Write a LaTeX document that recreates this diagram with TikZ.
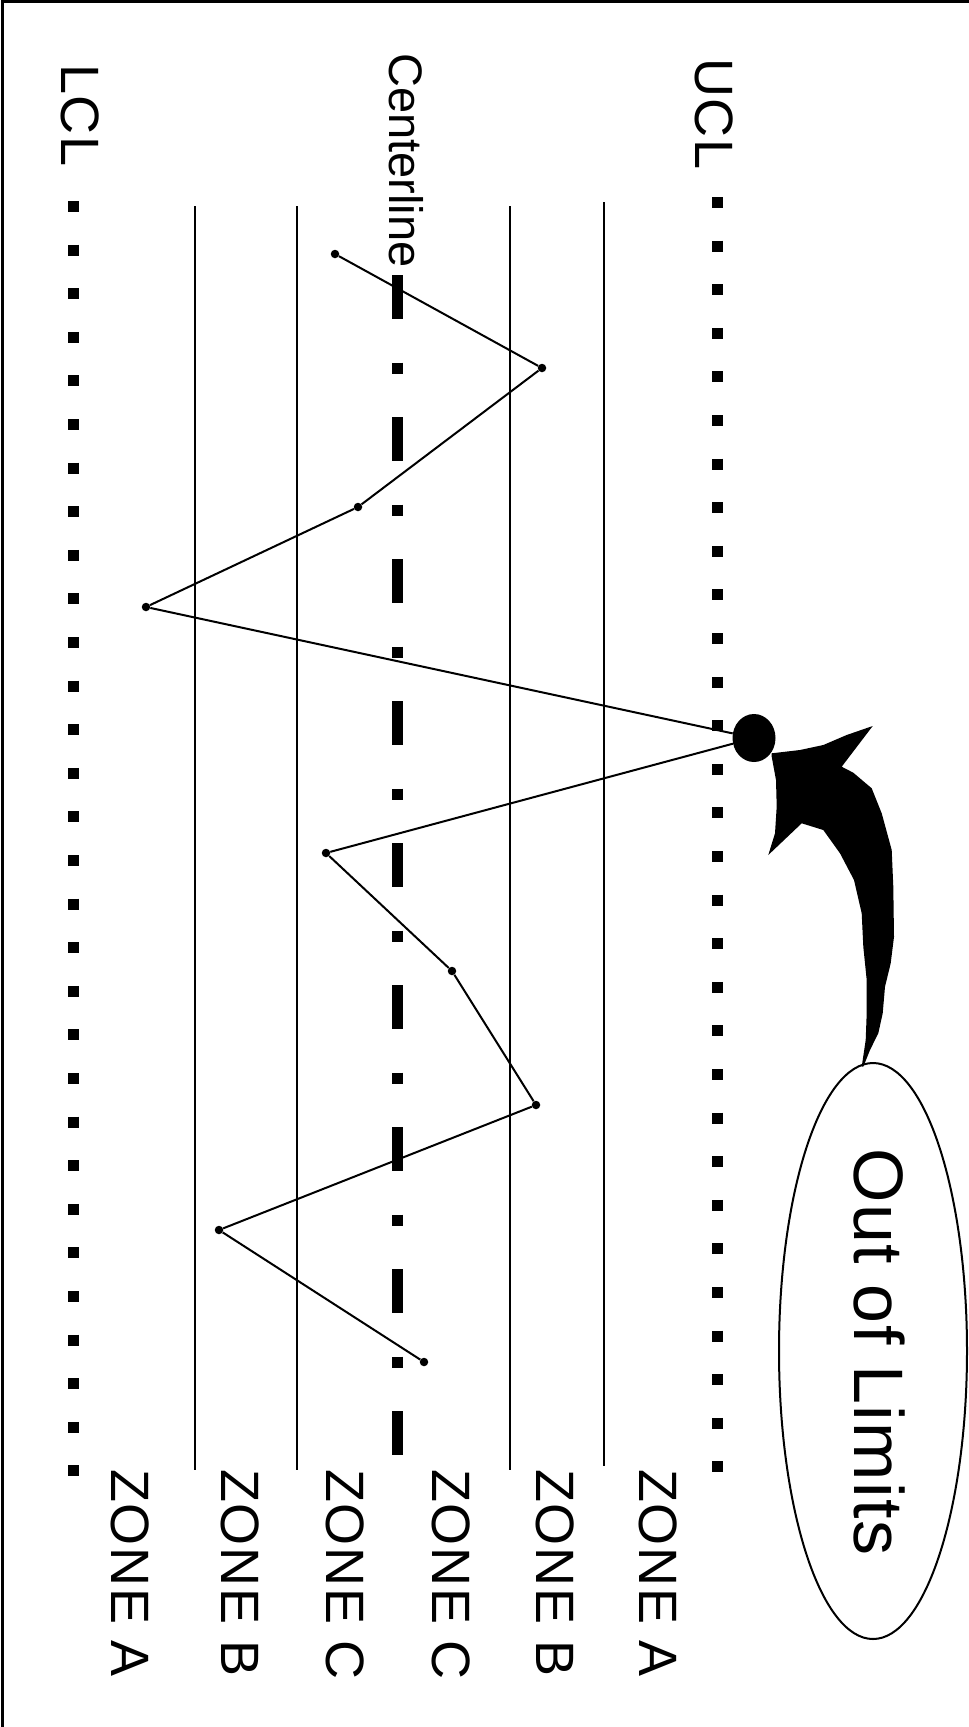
\documentclass[tikz,border=0pt]{standalone}
\usepackage{fontspec}
\setmainfont{Liberation Sans}
\usetikzlibrary{shapes.geometric}
\usetikzlibrary{positioning}

\begin{document}
\begin{tikzpicture}[x=1pt, y=-1pt]
	\tikzstyle{pt}=[circle, fill=black, inner sep=0pt, minimum size=8.5pt];
	\tikzstyle{outpt}=[ellipse, fill=black, inner sep=0pt, minimum width=43pt, minimum height=48pt];
	\tikzstyle{zone}=[line width=1.6pt];
	\tikzstyle{limit}=[line width=11pt, dash pattern=on 11pt off 32.6pt];
	\tikzstyle{center}=[line width=11pt, dash pattern=on 44pt off 43.5pt on 11pt off 43.5pt];
	\tikzstyle{lab}=[rotate=-90, anchor=west, inner sep=0pt,
	                 font=\fontsize{54}{60}\selectfont\addfontfeatures{LetterSpace=3}];
	\useasboundingbox (0,0) rectangle (969,1727);
	\draw[line width=3pt] (2,1727) -- (2,1.5) -- (969,1.5);
	\draw[limit] (73,201) -- (73,1477);
	\draw[limit] (717,197) -- (717,1473);
	\draw[center] (397,275) -- (397,1456);
	\foreach \x/\a/\b in {195/206/1470, 297/206/1470, 510/206/1470, 604/202/1466}
	{\draw[zone] (\x,\a) -- (\x,\b);}
	\node[lab] (lcl) at (80,64) {LCL};
	\node[lab] (ucl) at (714,58) {UCL};
	\node[lab, font=\fontsize{47}{54}\selectfont] (cl) at (406,53) {Centerline};
	\foreach \n/\x/\t in {1/130/A, 2/240/B, 3/345/C, 4/451/C, 5/555/B, 6/658/A}
	{\node[lab] (z\n) at (\x,1469) {ZONE \t};}
	\foreach \n/\x/\y in {1/335/254, 2/542/368, 3/358/507, 4/146/607,
	                      6/326/853, 7/452/971, 8/536/1105, 9/219/1230, 10/424/1362}
	{\node[pt] (p\n) at (\x,\y) {};}
	\node[outpt] (p5) at (754,738) {};
	\draw[line width=2pt]
	(p1) -- (p2) -- (p3) -- (p4) -- (p5) -- (p6) -- (p7) -- (p8) -- (p9) -- (p10);
	\node[ellipse, draw, line width=2pt, inner sep=0pt,
	      minimum width=188pt, minimum height=576pt] (ool) at (873,1351) {};
	\node[rotate=-90, inner sep=0pt, font=\fontsize{70}{80}\selectfont\addfontfeatures{LetterSpace=2}]
	      (oolt) at (880,1352) {Out of Limits};
	\fill (771.7,753.3) -- (800,750) -- (823.3,745) -- (846.7,735) -- (872.7,726)
	 -- (841.7,766.7) -- (853.3,772.7) -- (871.7,788.3) -- (881.7,813.3)
	 -- (891.7,850) -- (893.3,886.7) -- (894,936.7) -- (890.7,963.3)
	 -- (885,986.7) -- (882.7,1013.3) -- (878.3,1033.3) -- (870,1050)
	 -- (863.3,1066.7) -- (861.7,1066.7) -- (865.7,1040) -- (866.7,1013.3)
	 -- (866.7,980) -- (863.3,946.7) -- (861.7,913.3) -- (854,880)
	 -- (840,853.3) -- (823.3,830) -- (801.7,823.3) -- (768.3,855)
	 -- (775,833.3) -- (776.7,806.7) -- (776,780) -- (771.7,756.7) -- cycle;
\end{tikzpicture}
\end{document}
